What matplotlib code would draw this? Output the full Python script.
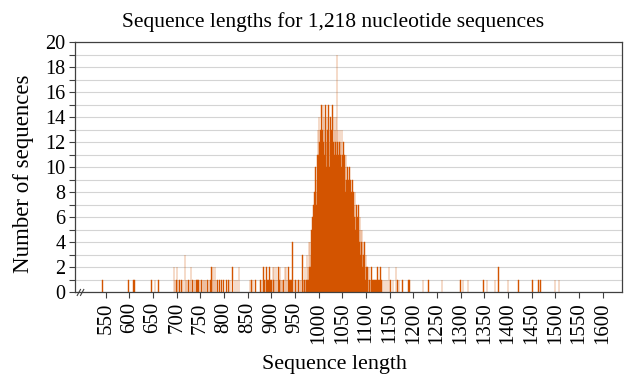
import matplotlib
matplotlib.use('Agg')
import matplotlib.pyplot as plt
from matplotlib.ticker import MultipleLocator

# sequence length -> number of sequences
left_lengths = [543, 598, 609, 611, 647, 654, 661,
                694, 696, 699, 701, 703, 706, 710, 713, 717, 719, 722, 725, 728, 730,
                733, 736, 738, 742, 744, 746, 749, 752, 755, 757, 760, 762, 765, 768,
                771, 773, 775, 777, 779, 781, 783, 786, 790, 795, 799, 805, 809, 813,
                818, 823, 827, 832, 855, 858, 861, 866,
                877, 880, 883, 885, 887, 890, 892, 894, 896, 898, 900, 903, 904, 906,
                908, 910, 912, 915, 917, 918, 920, 922, 924, 926, 929, 931, 933, 936,
                938, 940, 942, 945, 948, 951, 954, 957, 960, 963]
left_counts = [1, 1, 1, 1, 1, 1, 1,
               2, 1, 1, 2, 1, 1, 1, 1, 3, 1, 1, 1, 1, 2,
               1, 1, 1, 1, 1, 1, 1, 1, 1, 1, 1, 1, 1, 1,
               1, 2, 1, 2, 1, 2, 1, 1, 1, 1, 1, 1, 1, 1,
               2, 1, 1, 2, 1, 1, 1, 1,
               1, 1, 2, 1, 1, 2, 1, 1, 2, 1, 1, 2, 1, 2,
               1, 2, 1, 2, 1, 2, 1, 1, 1, 1, 2, 2, 1, 2,
               1, 1, 1, 4, 1, 1, 1, 1, 1, 1]

# main peak, one value per length starting at 966
peak_start = 966
peak_counts = [3, 1, 0, 1, 1, 2, 0, 1, 1, 3, 1, 2, 1, 4, 2, 1, 4, 2, 3,   # 966-984
               5, 4, 6, 5, 7, 6, 8, 7, 10, 8, 7, 9, 11, 10, 13,          # 985-999
               11, 14, 12, 10, 13, 11, 15, 12, 13, 15, 12, 14, 11, 13, 15,  # 1000-1014
               12, 10, 14, 12, 13, 11, 15, 13, 10, 12, 14, 11, 13, 12, 15,  # 1015-1029
               10, 12, 14, 11, 13, 12, 10, 14, 11, 19, 12, 13, 11, 10, 12,  # 1030-1044
               13, 11, 12, 10, 13, 11, 9, 12, 10, 11, 9, 10, 8, 11, 9,      # 1045-1059
               8, 10, 7, 9, 8, 10, 7, 9, 6, 8, 7, 9, 6, 8, 5,               # 1060-1074
               7, 6, 8, 5, 6, 7, 5, 6, 4, 7, 5, 4, 6, 3, 5,                 # 1075-1089
               4, 3, 5, 2, 4, 3, 2, 4, 2, 1, 3, 2, 1, 2, 1, 0, 2, 1]        # 1090-1107

right_lengths = [1108, 1110, 1112, 1114, 1116, 1118, 1120, 1122, 1124, 1126, 1128,
                 1131, 1133, 1136, 1140, 1144, 1149, 1152, 1157, 1163, 1166, 1170,
                 1177, 1190, 1192, 1220, 1232, 1261, 1300, 1305, 1316, 1348, 1356,
                 1373, 1380, 1400, 1422, 1452, 1464, 1469, 1499, 1508]
right_counts = [1, 1, 2, 1, 1, 1, 1, 1, 2, 1, 1,
                2, 1, 1, 1, 1, 2, 1, 1, 2, 1, 1,
                1, 1, 1, 1, 1, 1, 1, 1, 1, 1, 1,
                1, 2, 1, 1, 1, 1, 1, 1, 1]

x_ticks = list(range(550, 1601, 50))

bar_color = '#d35400'
grid_color = '#d4d4d4'
spine_color = '#404040'

plt.rcParams['font.family'] = ['Liberation Serif', 'DejaVu Serif']

lengths = left_lengths + list(range(peak_start, peak_start + len(peak_counts))) + right_lengths
counts = left_counts + peak_counts + right_counts

fig = plt.figure(figsize=(6.38, 3.91), dpi=100)
ax = fig.add_axes([0.1176, 0.252, 0.975 - 0.1176, 0.8926 - 0.252])

ax.bar(lengths, counts, width=1.0, color=bar_color, edgecolor=bar_color, linewidth=0.3)

ax.set_xlim(485, 1641)
ax.set_ylim(0, 20)
ax.yaxis.set_major_locator(MultipleLocator(2))
ax.yaxis.set_minor_locator(MultipleLocator(1))
ax.set_xticks(x_ticks)
ax.set_xticklabels([str(t) for t in x_ticks], rotation=90)
ax.tick_params(axis='both', which='major', direction='out', length=4, width=0.8,
               color=spine_color, pad=3)
ax.tick_params(axis='y', which='minor', direction='out', length=4, width=0.8, color=spine_color)
ax.tick_params(axis='y', labelsize=14.5)
ax.tick_params(axis='x', labelsize=15)

ax.grid(True, which='both', axis='y', color=grid_color, linewidth=0.8)
ax.set_axisbelow(True)
for s in ax.spines.values():
    s.set_color(spine_color)
    s.set_linewidth(0.9)

# axis break mark
for dx in (0.0, 0.006):
    ax.plot([0.004 + dx, 0.010 + dx], [-0.012, 0.012], transform=ax.transAxes,
            color=spine_color, linewidth=0.8, clip_on=False)

fig.text(333 / 638, 1 - 22 / 391, 'Sequence lengths for 1,218 nucleotide sequences',
         fontsize=15.5, ha='center', va='center')
ax.set_xlabel('Sequence length', fontsize=15.8, va='center')
ax.xaxis.set_label_coords(0.475, -0.289)
ax.set_ylabel('Number of sequences', fontsize=16.5, va='center')
ax.yaxis.set_label_coords(-0.095, 0.473)

fig.savefig('out.png', dpi=100)
